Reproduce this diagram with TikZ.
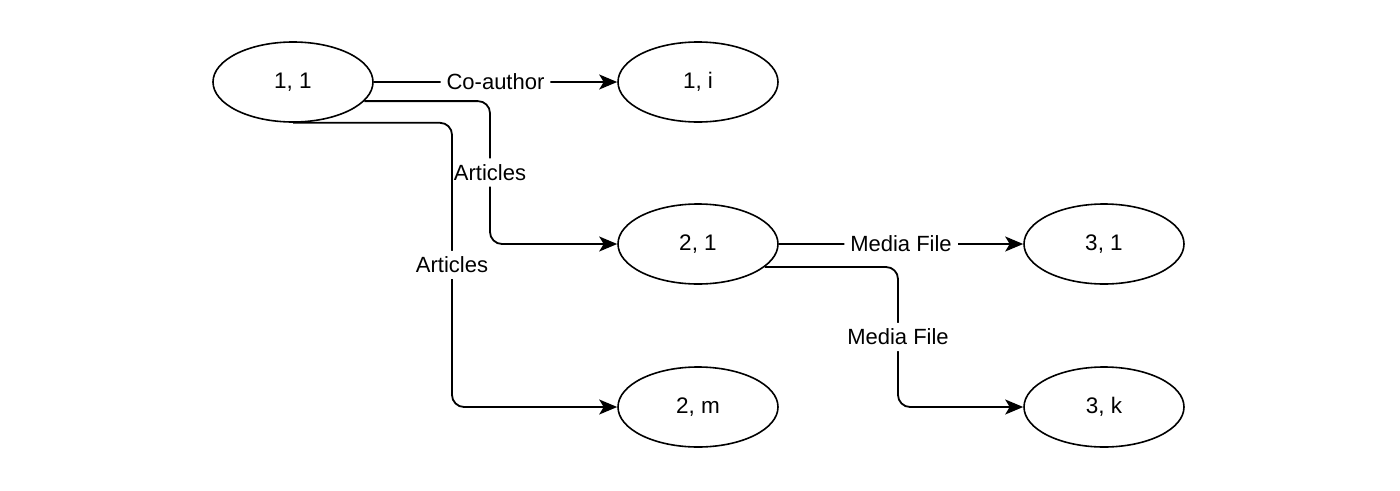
\documentclass[tikz,border=0pt]{standalone}
\usepackage{fontspec}
\setmainfont{Liberation Sans}
\usetikzlibrary{shapes.geometric,arrows.meta}
\tikzset{
  ell/.style={ellipse,draw,line width=1.6pt,minimum width=160pt,minimum height=80pt,inner sep=0pt,
    font=\fontsize{22.5}{26}\selectfont},
  conn/.style={line width=1.8pt,rounded corners=12pt,-{Stealth[length=18pt,width=15pt,inset=4.5pt]}},
  lbl/.style={fill=white,inner sep=6pt,font=\fontsize{22}{26}\selectfont}
}
\begin{document}
\begin{tikzpicture}[x=1pt,y=-1pt]
\useasboundingbox (0,0) rectangle (1400,490);
\node[ell] (a) at (293,82) {1, 1};
\node[ell] (b) at (698,82) {1, i};
\node[ell] (c) at (698,244) {2, 1};
\node[ell] (d) at (1104,244) {3, 1};
\node[ell] (e) at (698,407) {2, m};
\node[ell] (f) at (1104,407) {3, k};
\coordinate (v1) at (490,0);
\coordinate (v2) at (452,0);
\coordinate (v3) at (898,0);
\draw[conn] (a.east) -- node[lbl]{Co-author} (b.west);
\draw[conn] (a.-15) -- (a.-15 -| v1) -- node[lbl]{Articles} (c.west -| v1) -- (c.west);
\draw[conn] (a.south) -- (a.south -| v2) -- node[lbl]{Articles} (e.west -| v2) -- (e.west);
\draw[conn] (c.east) -- node[lbl]{Media File} (d.west);
\draw[conn] (c.-19) -- (c.-19 -| v3) -- node[lbl]{Media File} (f.west -| v3) -- (f.west);
\end{tikzpicture}
\end{document}
